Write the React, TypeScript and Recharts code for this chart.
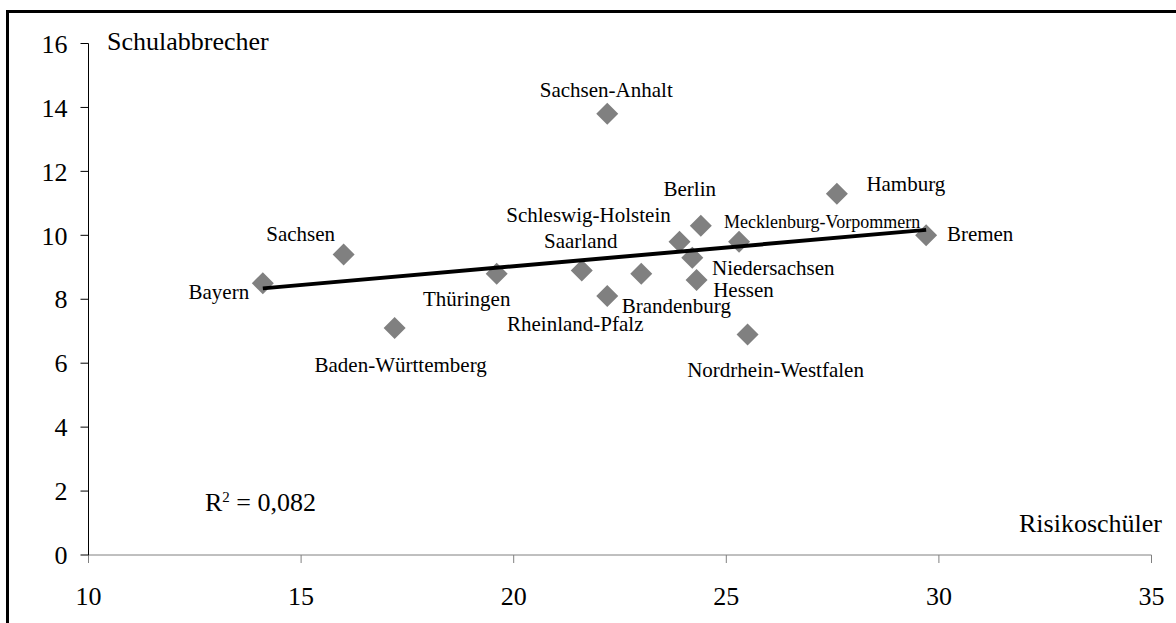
import React from 'react';
import { ScatterChart, Scatter, XAxis, YAxis } from 'recharts';

// ---- data ----
const states = [
  'Bayern', 'Sachsen', 'Baden-Württemberg', 'Thüringen', 'Saarland',
  'Rheinland-Pfalz', 'Sachsen-Anhalt', 'Brandenburg', 'Schleswig-Holstein',
  'Berlin', 'Niedersachsen', 'Hessen', 'Mecklenburg-Vorpommern',
  'Nordrhein-Westfalen', 'Hamburg', 'Bremen',
];
const risikoschueler = [14.1, 16.0, 17.2, 19.6, 21.6, 22.2, 22.2, 23.0, 23.9, 24.4, 24.2, 24.3, 25.3, 25.5, 27.6, 29.7];
const schulabbrecher = [8.5, 9.4, 7.1, 8.8, 8.9, 8.1, 13.8, 8.8, 9.8, 10.3, 9.3, 8.6, 9.8, 6.9, 11.3, 10.0];
const trendX = [14.1, 29.7];
const trendY = [8.34, 10.17];
const xTicks = [10, 15, 20, 25, 30, 35];
const yTicks = [0, 2, 4, 6, 8, 10, 12, 14, 16];
const xTitle = 'Risikoschüler';
const yTitle = 'Schulabbrecher';
const rSquared = '0,082';

const points = states.map((name, i) => ({ name, x: risikoschueler[i], y: schulabbrecher[i] }));
const trend = trendX.map((x, i) => ({ x, y: trendY[i] }));

// ---- label placement (styling) ----
const labelOffsets: Record<string, [number, number, number?]> = {
  'Bayern': [-44, 16],
  'Sachsen': [-43, -13],
  'Baden-Württemberg': [6, 44],
  'Thüringen': [-30, 32],
  'Saarland': [-1, -22],
  'Rheinland-Pfalz': [-32, 35],
  'Sachsen-Anhalt': [-1, -17],
  'Brandenburg': [35, 39],
  'Schleswig-Holstein': [-91, -20],
  'Berlin': [-11, -30],
  'Niedersachsen': [81, 17],
  'Hessen': [47, 17],
  'Mecklenburg-Vorpommern': [83, -14, 18],
  'Nordrhein-Westfalen': [28, 43],
  'Hamburg': [69, -3],
  'Bremen': [54, 6],
};

const FONT = '"Liberation Serif", "Times New Roman", serif';

const Diamond = (props: any) => {
  const { cx, cy, payload } = props;
  if (cx == null || cy == null) return <g />;
  const r = 11;
  const off = labelOffsets[payload.name] || [0, -15];
  return (
    <g>
      <polygon
        points={`${cx},${cy - r} ${cx + r},${cy} ${cx},${cy + r} ${cx - r},${cy}`}
        fill="#808080"
      />
      <text
        x={cx + off[0]}
        y={cy + off[1]}
        textAnchor="middle"
        fontFamily={FONT}
        fontSize={off[2] || 21}
        fill="#000"
      >
        {payload.name}
      </text>
    </g>
  );
};

const NoShape = () => <g />;

export default function App() {
  return (
    <div
      style={{
        position: 'absolute',
        left: 0,
        top: 0,
        width: 1176,
        height: 623,
        overflow: 'hidden',
        background: '#fff',
        fontFamily: FONT,
      }}
    >
      <div style={{ position: 'absolute', left: 0, top: 0 }}>
        <ScatterChart
          width={1176}
          height={623}
          margin={{ top: 43.5, right: 24.5, left: 0, bottom: 0 }}
          style={{ fontFamily: FONT }}
        >
          <XAxis
            type="number"
            dataKey="x"
            domain={[10, 35]}
            ticks={xTicks}
            interval={0}
            height={68}
            tickSize={8}
            tickMargin={24}
            axisLine={{ stroke: '#808080', strokeWidth: 1 }}
            tickLine={{ stroke: '#808080', strokeWidth: 1 }}
            tick={{ fill: '#000', fontSize: 26, fontFamily: FONT }}
            allowDataOverflow
          />
          <YAxis
            type="number"
            dataKey="y"
            domain={[0, 16]}
            ticks={yTicks}
            interval={0}
            width={88.5}
            tickSize={8}
            tickMargin={13}
            axisLine={{ stroke: '#000', strokeWidth: 1 }}
            tickLine={{ stroke: '#000', strokeWidth: 1 }}
            tick={{ fill: '#000', fontSize: 26, fontFamily: FONT }}
            allowDataOverflow
          />
          <Scatter data={points} shape={Diamond} isAnimationActive={false} />
          <Scatter
            data={trend}
            shape={NoShape}
            line={{ stroke: '#000', strokeWidth: 4 }}
            lineType="joint"
            isAnimationActive={false}
          />
        </ScatterChart>
      </div>
      <svg
        width={1176}
        height={623}
        style={{ position: 'absolute', left: 0, top: 0, pointerEvents: 'none' }}
      >
        <line x1={7.5} y1={10} x2={7.5} y2={623} stroke="#000" strokeWidth={3} />
        <line x1={6} y1={11.5} x2={1176} y2={11.5} stroke="#000" strokeWidth={3} />
        <text x={107} y={50} fontFamily={FONT} fontSize={26} fill="#000">
          {yTitle}
        </text>
        <text x={1162} y={532} textAnchor="end" fontFamily={FONT} fontSize={26} fill="#000">
          {xTitle}
        </text>
        <text x={205} y={511} fontFamily={FONT} fontSize={26} fill="#000">
          R
          <tspan dy={-9} fontSize={15}>2</tspan>
          <tspan dy={9}>{` = ${rSquared}`}</tspan>
        </text>
      </svg>
    </div>
  );
}
